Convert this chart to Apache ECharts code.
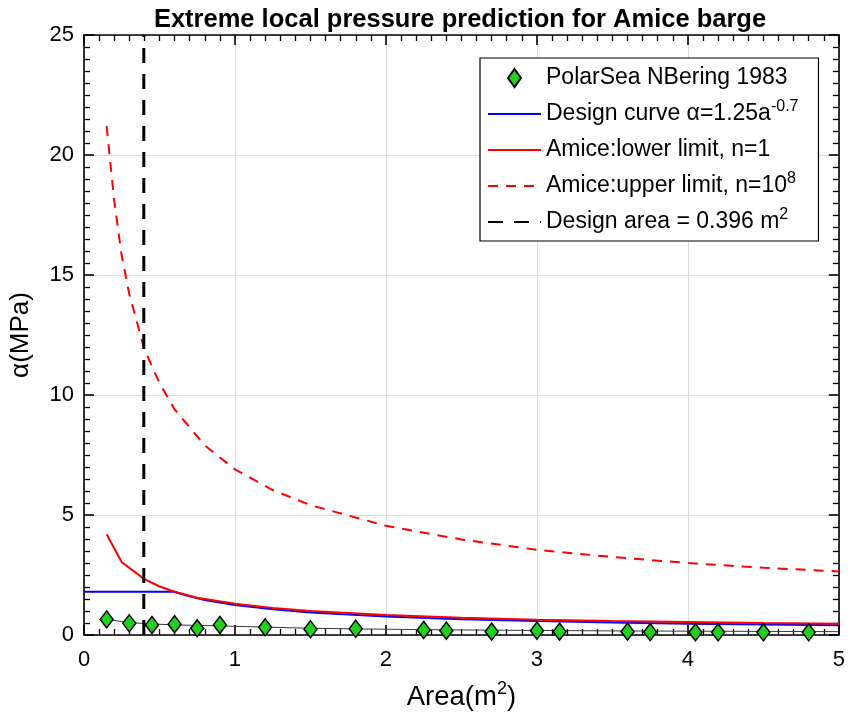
<!DOCTYPE html>
<html>
<head>
<meta charset="utf-8">
<script src="https://cdn.jsdelivr.net/npm/echarts@6/dist/echarts.min.js"></script>
<style>
  html, body { margin: 0; padding: 0; background: #fff; }
  #chart { width: 848px; height: 720px; }
</style>
</head>
<body>
<div id="chart"></div>
<script>
// Axis ticks
const xTickValues = [0, 1, 2, 3, 4, 5];
const yTickValues = [0, 5, 10, 15, 20, 25];

// PolarSea, North Bering 1983 measurements
const polarSeaArea     = [0.15, 0.30, 0.45, 0.60, 0.75, 0.90, 1.20, 1.50, 1.80, 2.25, 2.40, 2.70, 3.00, 3.15, 3.60, 3.75, 4.05, 4.20, 4.50, 4.80];
const polarSeaPressure = [0.65, 0.49, 0.42, 0.45, 0.28, 0.42, 0.32, 0.24, 0.26, 0.21, 0.18, 0.14, 0.18, 0.14, 0.14, 0.12, 0.11, 0.11, 0.11, 0.11];

// Trend through the measurements
const trendArea     = [0.15, 0.30, 0.45, 0.60, 0.75, 0.90, 1.20, 1.50, 2.00, 2.50, 3.00, 3.50, 4.00, 4.50, 5.00];
const trendPressure = [0.65, 0.52, 0.46, 0.42, 0.40, 0.38, 0.33, 0.28, 0.24, 0.21, 0.19, 0.17, 0.16, 0.15, 0.14];

// Design curve alpha = 1.25 a^-0.7, capped at 1.8 MPa
const designArea     = [0.00, 0.594, 0.70, 0.80, 1.00, 1.25, 1.50, 2.00, 2.50, 3.00, 3.50, 4.00, 4.50, 5.00];
const designPressure = [1.80, 1.80, 1.61, 1.46, 1.25, 1.07, 0.94, 0.77, 0.66, 0.58, 0.52, 0.47, 0.44, 0.41];

// Amice lower limit, n = 1
const lowerArea     = [0.15, 0.25, 0.40, 0.50, 0.60, 0.75, 1.00, 1.25, 1.50, 2.00, 2.50, 3.00, 3.50, 4.00, 4.50, 5.00];
const lowerPressure = [4.20, 3.03, 2.33, 2.02, 1.80, 1.55, 1.30, 1.13, 1.00, 0.83, 0.72, 0.64, 0.58, 0.54, 0.50, 0.47];

// Amice upper limit, n = 10^8
const upperArea     = [0.15, 0.20, 0.25, 0.30, 0.40, 0.50, 0.60, 0.80, 1.00, 1.25, 1.50, 2.00, 2.50, 3.00, 3.50, 4.00, 4.50, 5.00];
const upperPressure = [21.2, 18.1, 15.8, 14.2, 11.9, 10.5, 9.40, 7.90, 6.90, 6.04, 5.41, 4.55, 3.98, 3.55, 3.25, 3.00, 2.80, 2.65];

// Design area marker
const designAreaLineX = [0.396, 0.396];
const designAreaLineY = [0, 25];

const seriesNames = [
  'PolarSea NBering 1983',
  'Design curve',
  'Amice:lower limit, n=1',
  'Amice:upper limit',
  'Design area'
];
const legendText = {
  'PolarSea NBering 1983': 'PolarSea NBering 1983',
  'Design curve': 'Design curve α=1.25a{sup|-0.7}',
  'Amice:lower limit, n=1': 'Amice:lower limit, n=1',
  'Amice:upper limit': 'Amice:upper limit, n=10{sup|8}',
  'Design area': 'Design area = 0.396 m{sup|2}'
};

const FONT = '"Liberation Sans", Arial, Helvetica, sans-serif';
const zip = (xs, ys) => xs.map((x, i) => [x, ys[i]]);
const supStyle = { fontSize: 16, lineHeight: 16, verticalAlign: 'top', fontFamily: FONT, color: '#000' };

const frameAxis = {
  type: 'value',
  axisLine: { show: true, onZero: false, lineStyle: { color: '#000', width: 1.6 } },
  axisTick: { show: true, inside: true, length: 10, lineStyle: { color: '#000', width: 1.6 } },
  minorTick: { show: true, splitNumber: 10, length: 6, lineStyle: { color: '#000', width: 1.3 } }
};

const xRange = { min: xTickValues[0], max: xTickValues[xTickValues.length - 1], interval: xTickValues[1] - xTickValues[0] };
const yRange = { min: yTickValues[0], max: yTickValues[yTickValues.length - 1], interval: yTickValues[1] - yTickValues[0] };

// Legend entries for lines show only the stroke
const lineOnly = name => ({ name: name, itemStyle: { opacity: 0 } });

const chart = echarts.init(document.getElementById('chart'), null, { renderer: 'canvas' });

chart.setOption({
  animation: false,
  backgroundColor: '#fff',
  title: {
    text: 'Extreme local pressure prediction for Amice barge',
    left: 455,
    top: 2,
    textAlign: 'center',
    textStyle: { fontFamily: FONT, fontSize: 25.5, fontWeight: 'bold', color: '#000' }
  },
  grid: { left: 80, right: 8, top: 35, bottom: 85, containLabel: false },
  xAxis: [
    Object.assign({}, frameAxis, xRange, {
      position: 'bottom',
      axisLabel: { fontFamily: FONT, fontSize: 22, color: '#000', margin: 14 },
      splitLine: { show: true, lineStyle: { color: '#dcdcdc', width: 1 } },
      name: 'Area(m{sup|2})',
      nameLocation: 'middle',
      nameGap: 45,
      nameTextStyle: { fontFamily: FONT, fontSize: 27.5, color: '#000', lineHeight: 34, rich: { sup: { fontSize: 18, lineHeight: 18, verticalAlign: 'top', fontFamily: FONT, color: '#000' } } }
    }),
    Object.assign({}, frameAxis, xRange, {
      position: 'top',
      axisLabel: { show: false },
      splitLine: { show: false }
    })
  ],
  yAxis: [
    Object.assign({}, frameAxis, yRange, {
      position: 'left',
      axisLabel: { fontFamily: FONT, fontSize: 22, color: '#000', margin: 10 },
      splitLine: { show: true, lineStyle: { color: '#dcdcdc', width: 1 } },
      name: 'α(MPa)',
      nameLocation: 'middle',
      nameGap: 50,
      nameTextStyle: { fontFamily: FONT, fontSize: 26, color: '#000' }
    }),
    Object.assign({}, frameAxis, yRange, {
      position: 'right',
      axisLabel: { show: false },
      splitLine: { show: false }
    })
  ],
  legend: {
    orient: 'vertical',
    left: 480,
    top: 58,
    backgroundColor: '#fff',
    borderColor: '#000',
    borderWidth: 1.2,
    borderRadius: 0,
    padding: [5, 20, 4, 7],
    itemGap: 6,
    itemWidth: 53,
    itemHeight: 18,
    selectedMode: false,
    textStyle: { fontFamily: FONT, fontSize: 23, color: '#000', lineHeight: 30, rich: { sup: supStyle } },
    formatter: name => legendText[name],
    data: [
      { name: seriesNames[0], icon: 'path://M6.5,0L13,9L6.5,18L0,9Z' },
      lineOnly(seriesNames[1]),
      lineOnly(seriesNames[2]),
      lineOnly(seriesNames[3]),
      lineOnly(seriesNames[4])
    ]
  },
  series: [
    {
      name: 'trend',
      type: 'line',
      data: zip(trendArea, trendPressure),
      symbol: 'none',
      silent: true,
      lineStyle: { color: '#3a3a3a', width: 1 },
      z: 2
    },
    {
      name: seriesNames[0],
      type: 'scatter',
      data: zip(polarSeaArea, polarSeaPressure),
      symbol: 'diamond',
      symbolSize: [13, 17],
      itemStyle: { color: '#1fd01f', borderColor: '#000', borderWidth: 1.5, opacity: 1 },
      z: 3
    },
    {
      name: seriesNames[1],
      type: 'line',
      data: zip(designArea, designPressure),
      symbol: 'none',
      lineStyle: { color: '#0000ff', width: 2 },
      itemStyle: { color: '#0000ff' },
      z: 3
    },
    {
      name: seriesNames[2],
      type: 'line',
      data: zip(lowerArea, lowerPressure),
      symbol: 'none',
      lineStyle: { color: '#ff0000', width: 2 },
      itemStyle: { color: '#ff0000' },
      z: 3
    },
    {
      name: seriesNames[3],
      type: 'line',
      data: zip(upperArea, upperPressure),
      symbol: 'none',
      lineStyle: { color: '#ff0000', width: 2, type: [10, 8] },
      itemStyle: { color: '#ff0000' },
      z: 3
    },
    {
      name: seriesNames[4],
      type: 'line',
      data: zip(designAreaLineX, designAreaLineY),
      symbol: 'none',
      lineStyle: { color: '#000', width: 3, type: [15, 11] },
      itemStyle: { color: '#000' },
      z: 4
    }
  ]
});
</script>
</body>
</html>
